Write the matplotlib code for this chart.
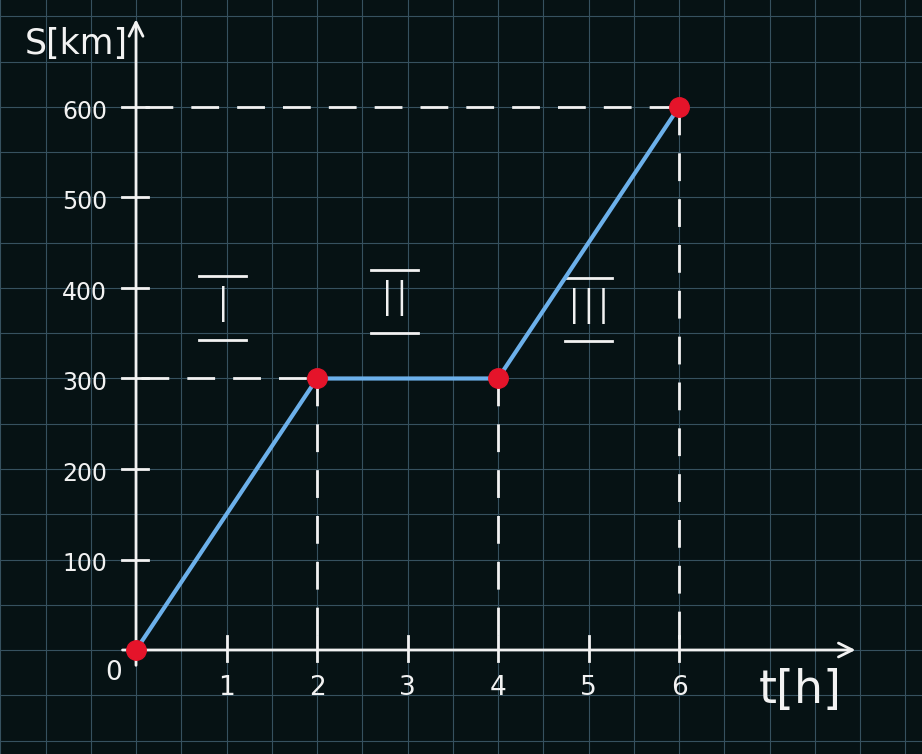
import numpy as np
import matplotlib.pyplot as plt

# distance-time data (t in hours, s in km)
time_h = [0, 2, 4, 6]
dist_km = [0, 300, 300, 600]
x_ticks = [1, 2, 3, 4, 5, 6]
y_ticks = [100, 200, 300, 400, 500, 600]
phase_labels = ['I', 'II', 'III']
phase_pos = [(0.96, 378), (2.86, 385), (5.0, 376)]

bg = '#061214'
grid_col = '#36515f'
ink = '#f2f2f2'

fig = plt.figure(figsize=(9.22, 7.54), dpi=100, facecolor=bg)
ax = fig.add_axes([0, 0, 1, 1])
ax.set_facecolor(bg)
ax.set_xlim(-1.503, 8.685)
ax.set_ylim(-114.9, 718.2)
ax.axis('off')

# squared paper
for gx in np.arange(-1.5, 9.0, 0.5):
    ax.axvline(gx, color=grid_col, lw=0.8, zorder=0)
for gy in np.arange(-100, 750, 50):
    ax.axhline(gy, color=grid_col, lw=0.8, zorder=0)

# axes with arrows
ax.annotate('', xy=(7.98, 0), xytext=(-0.18, 0),
            arrowprops=dict(arrowstyle='->', color=ink, lw=2, mutation_scale=25))
ax.annotate('', xy=(0, 700), xytext=(0, -20),
            arrowprops=dict(arrowstyle='->', color=ink, lw=2, mutation_scale=25))

for t in x_ticks:
    ax.plot([t, t], [16, -12], color=ink, lw=2, zorder=3)
    ax.text(t, -42, str(t), color=ink, fontsize=19, ha='center', va='center')
for s in y_ticks:
    ax.plot([-0.15, 0.13], [s, s], color=ink, lw=2, zorder=3)
    ax.text(-0.32, s - 5, str(s), color=ink, fontsize=17, ha='right', va='center')
ax.text(-0.25, -25, '0', color=ink, fontsize=19, ha='center', va='center')
ax.text(-0.66, 670, 'S[km]', color=ink, fontsize=25, ha='center', va='center')
ax.text(7.34, -45, 't[h]', color=ink, fontsize=33, ha='center', va='center')

# dashed guides
dash = dict(color=ink, lw=2, dashes=(10, 6.5), zorder=2)
ax.plot([0.1, 6], [600, 600], **dash)
ax.plot([6, 6], [600, 0], **dash)
ax.plot([0.05, 2], [300, 300], **dash)
ax.plot([2, 2], [300, 0], **dash)
ax.plot([4, 4], [300, 0], **dash)

# roman numerals for the phases, with bars
for lab, (px, py) in zip(phase_labels, phase_pos):
    ax.text(px, py, lab, color=ink, fontsize=36, ha='center', va='center',
            family='DejaVu Sans', fontweight='light')
    w = 0.26
    ax.plot([px - w, px + w], [py + 35, py + 35], color=ink, lw=2)
    ax.plot([px - w, px + w], [py - 35, py - 35], color=ink, lw=2)

ax.plot(time_h, dist_km, color='#6cb0ea', lw=3, zorder=4, solid_capstyle='round')
ax.plot(time_h, dist_km, 'o', color='#e5142a', ms=14, zorder=5)

fig.savefig('out.png', dpi=100, facecolor=bg)
